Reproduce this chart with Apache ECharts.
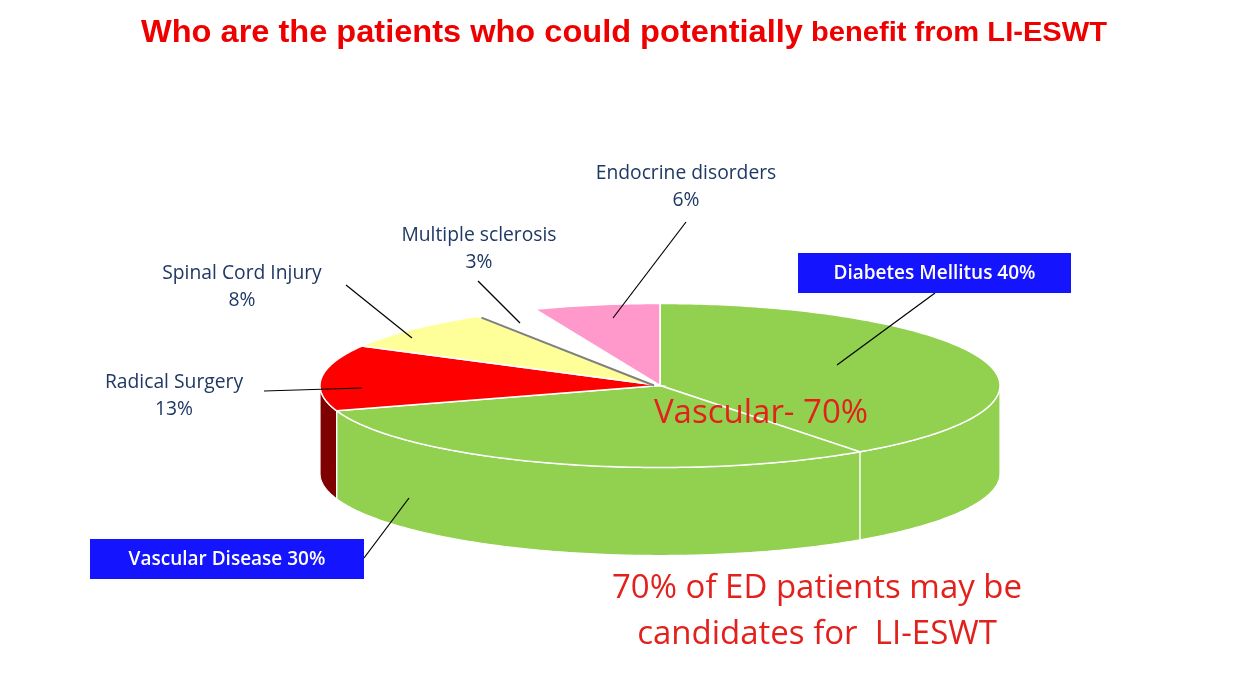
<!DOCTYPE html>
<html><head><meta charset="utf-8">
<style>html,body{margin:0;padding:0;background:#fff}#c{width:1246px;height:685px}</style>
<script src="https://cdn.jsdelivr.net/npm/echarts@6/dist/echarts.min.js"></script>
</head><body><div id="c"></div>
<script>
const categories = ['Diabetes Mellitus','Vascular Disease','Radical Surgery','Spinal Cord Injury','Multiple sclerosis','Endocrine disorders'];
const values = [40,30,13,8,3,6];
const topColors = ['#92d050','#92d050','#ff0000','#ffff99','#ffffff','#ff99cc'];
const sideColors = ['#92d050','#92d050','#7f0000','#cccc7a','#ffffff','#cc7aa3'];
const titleParts = ['Who are the patients who could potentially','benefit from LI-ESWT'];

const G = {cx:660, cy:385.5, rx:340, ry:82, depth:88};
const total = values.reduce((a,b)=>a+b,0);
const starts = []; values.reduce((s,v,i)=>{starts[i]=s; return s+v;},0);
const ang = v => v/total*Math.PI*2;
const pt = (t,dy=0)=>[G.cx+G.rx*Math.sin(t), G.cy-G.ry*Math.cos(t)+dy];
function arc(a,b,dy=0){
  const n=Math.max(2,Math.ceil((b-a)/0.015)), out=[];
  for(let i=0;i<=n;i++) out.push(pt(a+(b-a)*i/n,dy));
  return out;
}
function renderSide(params,api){
  const i=params.dataIndex;
  const a=Math.max(ang(starts[i]),Math.PI/2), b=Math.min(ang(starts[i]+api.value(1)),Math.PI*1.5);
  if(b<=a) return {type:'group',children:[]};
  return {type:'polygon',shape:{points:arc(a,b).concat(arc(a,b,G.depth).reverse())},
    style:{fill:sideColors[i],stroke:'#ffffff',lineWidth:1.2}};
}
function renderTop(params,api){
  const i=params.dataIndex;
  const a=ang(starts[i]), b=ang(starts[i]+api.value(1));
  const isWhite=topColors[i]==='#ffffff';
  const children=[{type:'polygon',shape:{points:[[G.cx,G.cy]].concat(arc(a,b))},
    style:{fill:topColors[i],stroke:'#ffffff',lineWidth:1.5}}];
  if(isWhite){
    const p=pt(a), k=0.98;
    children.push({type:'line',shape:{x1:G.cx+(p[0]-G.cx)*k,y1:G.cy+(p[1]-G.cy)*k,x2:G.cx-6,y2:G.cy},style:{stroke:'#7f7f7f',lineWidth:2}});
  }
  return {type:'group',children};
}
const seriesData = categories.map((c,i)=>({name:c,value:[i,values[i]]}));

const lbl = i => categories[i]+'\n'+values[i]+'%';
const navy='#1f3864', red='#e3211c', sans='"Open Sans","Noto Sans",sans-serif', titleFont='bold {s}px "Liberation Sans",Arial,sans-serif';
const leaders=[[686,222,613,318],[478,281,520,323],[346,285,412,338],[264,391,362,388],[935,293,837,365],[364,558,409,498]];
const catLabels=[[5,686,187],[4,479,249],[3,242,287],[2,174,396]];
const graphics=[];
leaders.forEach(l=>graphics.push({type:'line',z:20,shape:{x1:l[0],y1:l[1],x2:l[2],y2:l[3]},style:{stroke:'#000',lineWidth:1.2}}));
catLabels.forEach(c=>graphics.push({type:'text',z:21,x:c[1],y:c[2],style:{text:lbl(c[0]),fill:navy,font:'19.3px '+sans,lineHeight:27,align:'center',verticalAlign:'middle'}}));
[[0,798,253,273,40],[1,90,539,274,40]].forEach(b=>{
  graphics.push({type:'rect',z:21,shape:{x:b[1],y:b[2],width:b[3],height:b[4]},style:{fill:'#1414ff'}});
  graphics.push({type:'text',z:22,x:b[1]+b[3]/2,y:b[2]+b[4]/2+1,style:{text:categories[b[0]]+' '+values[b[0]]+'%',fill:'#fff',font:'600 19px '+sans,align:'center',verticalAlign:'middle'}});
});
graphics.push({type:'text',z:22,x:761,y:414,style:{text:'Vascular- '+(values[0]+values[1])+'%',fill:red,font:'33px '+sans,align:'center',verticalAlign:'middle'}});
graphics.push({type:'text',z:22,x:817,y:612,style:{text:(values[0]+values[1])+'% of ED patients may be\ncandidates for  LI-ESWT',fill:red,font:'33px '+sans,lineHeight:46,align:'center',verticalAlign:'middle'}});
graphics.push({type:'text',z:22,x:141,y:18,scaleX:1.05,style:{text:titleParts[0],fill:'#ee0000',font:titleFont.replace('{s}',31),align:'left',verticalAlign:'top'}});
graphics.push({type:'text',z:22,x:811,y:19,scaleX:1.04,style:{text:titleParts[1],fill:'#ee0000',font:titleFont.replace('{s}',28),align:'left',verticalAlign:'top'}});

const chart=echarts.init(document.getElementById('c'),null,{renderer:'canvas'});
chart.setOption({
  animation:false,
  backgroundColor:'#ffffff',
  series:[
    {type:'custom',name:'side',coordinateSystem:'none',silent:true,z:1,renderItem:renderSide,data:seriesData,encode:{value:1}},
    {type:'custom',name:'top',coordinateSystem:'none',silent:true,z:2,renderItem:renderTop,data:seriesData,encode:{value:1}}
  ],
  graphic:graphics
});
</script></body></html>
